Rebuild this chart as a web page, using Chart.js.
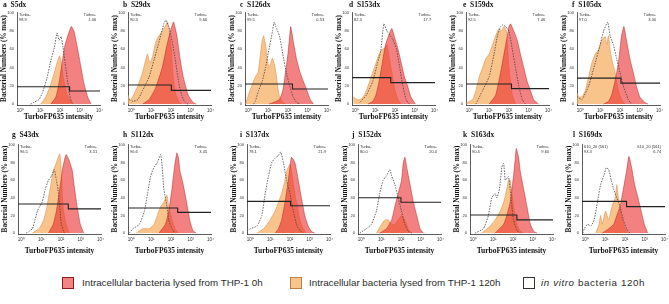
<!DOCTYPE html>
<html><head><meta charset="utf-8">
<script src="https://cdn.jsdelivr.net/npm/chart.js@4.4.1/dist/chart.umd.min.js"></script>
<style>
html,body{margin:0;padding:0;background:#fff;width:669px;height:304px;overflow:hidden;position:relative}
canvas{position:absolute}
.leg{position:absolute;font-family:"Liberation Sans",Arial,sans-serif;font-size:9.8px;color:#2a2a2a;white-space:nowrap;line-height:12px}
.sw{position:absolute;width:12px;height:12px;box-sizing:border-box}
</style></head><body>
<div class="sw" style="left:62px;top:277px;background:rgba(240,110,110,0.85);border:1px solid #8a1f1f"></div>
<div class="leg" style="left:82px;top:277px">Intracellular bacteria lysed from THP-1 0h</div>
<div class="sw" style="left:290px;top:277px;background:rgba(247,190,130,0.9);border:1px solid #c08040"></div>
<div class="leg" style="left:309px;top:277px">Intracellular bacteria lysed from THP-1 120h</div>
<div class="sw" style="left:523px;top:277px;background:#fff;border:1px solid #333"></div>
<div class="leg" style="left:541px;top:277px;letter-spacing:0.6px"><i>in vitro</i> bacteria 120h</div>
<script>
// ---------- data ----------
const panelLetters = ['a','b','c','d','e','f','g','h','i','j','k','l'];
const panelNames = ['S5dx','S29dx','S126dx','S153dx','S159dx','S105dx','S43dx','S112dx','S137dx','S152dx','S163dx','S169dx'];
const negLabels = ['Turbo-','Turbo-','Turbo-','Turbo-','Turbo-','Turbo-','Turbo-','Turbo-','Turbo-','Turbo-','Turbo-','610_20 (561)'];
const posLabels = ['Turbo+','Turbo+','Turbo+','Turbo+','Turbo+','Turbo+','Turbo+','Turbo+','Turbo+','Turbo+','Turbo+','610_20 (561)'];
const negPercent = ['98.9','90.3','99.5','82.3','92.5','97.0','96.5','96.6','78.1','80.0','90.4','93.3'];
const posPercent = ['1.06','9.66','0.53','17.7','7.46','3.00','3.51','3.45','21.9','20.0','9.60','6.74'];
const xTickLabels = ['10⁰','10¹','10²','10³','10⁴'];
const xTickValues = [0,1,2,3,4];
const yTickValues = [0,20,40,60,80,100];
const gateSplit = [2.49,2.02,2.23,1.79,2.13,2.05,2.37,2.34,2.03,2.0,2.2,2.08];
const gateLeftY = [19,21,22,29,22,28.5,33,28.5,36,40,20.5,36];
const gateRightY = [14.4,15,16.5,23.5,17,23,27.5,23.5,31,35,15,30];

// series: [log10 intensity, % max]
const redA = [[1.54,0],[1.8,8],[1.97,25],[2.14,50],[2.26,65],[2.4,75],[2.57,85],[2.71,80],[2.88,62],[3.05,42],[3.22,22],[3.4,8],[3.57,0]];
const orangeA = [[1.03,0],[1.29,8],[1.51,20],[1.72,35],[1.89,48],[1.99,53],[2.09,42],[2.2,25],[2.37,10],[2.54,3],[2.66,0]];
const vitroA = [[0.51,0],[0.69,2],[0.94,5],[1.11,12],[1.34,28],[1.54,48],[1.72,62],[1.85,78],[1.96,70],[2.06,74],[2.16,62],[2.26,45],[2.37,28],[2.47,12],[2.57,3],[2.68,0]];

const redB = [[0.57,0],[0.9,5],[1.23,18],[1.56,40],[1.8,65],[1.97,80],[2.13,90],[2.3,75],[2.46,50],[2.62,30],[2.87,10],[3.11,2],[3.28,0]];
const orangeB = [[-0.17,10],[-0.05,4],[0.11,10],[0.33,20],[0.57,35],[0.74,50],[0.82,55],[0.93,45],[1.07,52],[1.23,68],[1.39,75],[1.56,80],[1.72,86],[1.82,90],[1.92,80],[2.02,60],[2.11,30],[2.25,10],[2.41,2],[2.54,0]];
const vitroB = [[-0.11,5],[0.08,3],[0.33,5],[0.57,15],[0.9,30],[1.23,55],[1.48,75],[1.64,88],[1.75,92],[1.89,85],[2.05,70],[2.21,50],[2.38,25],[2.54,10],[2.7,2],[2.87,0]];

const redC = [[1.04,0],[1.3,2],[1.57,5],[1.74,15],[1.91,40],[2.0,55],[2.09,75],[2.14,85],[2.26,70],[2.43,50],[2.61,35],[2.78,25],[2.96,15],[3.13,5],[3.3,0]];
const orangeC = [[-0.14,0],[0,10],[0.17,20],[0.35,30],[0.49,35],[0.61,55],[0.7,70],[0.77,75],[0.87,65],[0.96,50],[1.04,40],[1.13,45],[1.22,50],[1.3,45],[1.39,35],[1.48,20],[1.57,8],[1.74,2],[1.88,0]];
const vitroC = [[0.26,0],[0.35,3],[0.52,15],[0.7,25],[0.87,40],[1.04,60],[1.22,80],[1.3,90],[1.39,85],[1.57,75],[1.74,55],[1.91,35],[2.09,20],[2.26,8],[2.43,2],[2.61,0]];

const redD = [[0.64,0],[0.88,3],[1.04,10],[1.2,25],[1.36,45],[1.52,65],[1.68,75],[1.84,83],[2.0,72],[2.16,60],[2.32,45],[2.48,30],[2.64,20],[2.8,8],[3.04,0]];
const orangeD = [[-0.11,8],[0.08,5],[0.24,5],[0.4,8],[0.56,15],[0.72,25],[0.88,35],[1.04,45],[1.2,55],[1.36,60],[1.52,62],[1.6,65],[1.68,55],[1.84,35],[2.0,15],[2.16,5],[2.32,0]];
const vitroD = [[0.24,2],[0.56,10],[0.88,25],[1.12,45],[1.28,58],[1.44,88],[1.6,80],[1.76,75],[1.92,70],[2.08,60],[2.24,40],[2.4,20],[2.56,5],[2.72,0]];

const redE = [[1.0,0],[1.33,10],[1.58,35],[1.75,55],[1.92,75],[2.0,85],[2.08,88],[2.25,80],[2.42,70],[2.58,55],[2.75,40],[2.92,25],[3.08,15],[3.25,5],[3.5,0]];
const orangeE = [[-0.17,0],[0,3],[0.17,5],[0.33,15],[0.5,30],[0.67,40],[0.83,50],[1.0,55],[1.17,65],[1.33,75],[1.5,83],[1.62,80],[1.75,85],[1.87,80],[2.0,40],[2.17,10],[2.33,0]];
const vitroE = [[0.33,0],[0.67,15],[1.0,30],[1.25,55],[1.42,75],[1.58,85],[1.7,87],[1.83,85],[2.0,80],[2.17,60],[2.33,40],[2.5,20],[2.67,5],[2.83,0]];

const redF = [[1.17,0],[1.42,3],[1.58,10],[1.75,25],[1.92,45],[2.0,60],[2.08,75],[2.2,85],[2.33,70],[2.5,50],[2.67,35],[2.83,20],[3.0,8],[3.25,2],[3.42,0]];
const orangeF = [[-0.17,12],[-0.08,8],[0.08,8],[0.25,15],[0.42,30],[0.58,45],[0.75,55],[0.92,60],[1.08,70],[1.25,74],[1.33,65],[1.42,75],[1.5,60],[1.58,50],[1.75,35],[1.92,15],[2.08,5],[2.25,0]];
const vitroF = [[-0.17,8],[0.08,5],[0.42,20],[0.75,45],[1.0,65],[1.17,80],[1.38,90],[1.5,75],[1.67,65],[1.83,50],[2.0,35],[2.17,20],[2.42,5],[2.58,0]];

const redG = [[1.37,0],[1.61,10],[1.77,25],[1.94,50],[2.1,75],[2.26,89],[2.42,82],[2.58,70],[2.66,55],[2.82,30],[2.98,10],[3.15,0]];
const orangeG = [[0.56,0],[0.89,5],[1.13,15],[1.29,30],[1.45,50],[1.61,70],[1.77,80],[1.94,90],[2.02,70],[2.1,30],[2.26,10],[2.42,0]];
const vitroG = [[0.24,0],[0.4,2],[0.56,5],[0.69,15],[0.81,25],[0.92,30],[1.05,35],[1.21,50],[1.37,60],[1.53,65],[1.66,72],[1.77,60],[1.85,50],[1.94,30],[2.02,10],[2.18,0]];

const redH = [[1.39,0],[1.72,10],[1.89,25],[2.05,50],[2.18,75],[2.3,91],[2.38,85],[2.46,70],[2.62,55],[2.79,35],[2.95,15],[3.11,3],[3.28,0]];
const orangeH = [[0.25,0],[0.57,5],[0.9,5],[1.15,10],[1.31,20],[1.48,30],[1.64,35],[1.8,43],[1.89,30],[2.05,15],[2.21,5],[2.38,0]];
const vitroH = [[-0.11,0],[0.08,5],[0.41,10],[0.66,25],[0.82,45],[0.98,65],[1.15,75],[1.31,80],[1.48,89],[1.56,75],[1.64,50],[1.8,30],[1.89,15],[2.05,5],[2.21,0]];

const redI = [[1.25,0],[1.42,5],[1.58,15],[1.75,35],[1.92,60],[2.0,75],[2.08,86],[2.25,80],[2.42,60],[2.58,40],[2.75,20],[2.92,8],[3.08,2],[3.25,0]];
const orangeI = [[0.33,0],[0.67,5],[1.0,15],[1.25,25],[1.42,35],[1.58,45],[1.75,60],[1.83,70],[1.92,75],[2.0,78],[2.08,70],[2.17,55],[2.33,35],[2.5,15],[2.67,5],[2.83,0]];
const vitroI = [[-0.17,3],[0,5],[0.33,8],[0.58,20],[0.75,45],[0.92,65],[1.08,80],[1.25,85],[1.42,88],[1.53,92],[1.67,80],[1.83,60],[2.0,45],[2.17,25],[2.33,10],[2.5,3],[2.67,0]];

const redJ = [[0.93,0],[1.27,5],[1.53,15],[1.69,30],[1.86,45],[2.03,60],[2.12,80],[2.2,86],[2.29,75],[2.46,55],[2.63,35],[2.8,20],[2.97,5],[3.14,0]];
const orangeJ = [[0.76,0],[1.02,10],[1.19,15],[1.36,15],[1.53,10],[1.69,10],[1.86,15],[2.03,20],[2.2,15],[2.37,5],[2.54,0]];
const vitroJ = [[-0.08,0],[0.25,5],[0.51,10],[0.76,25],[0.93,45],[1.1,60],[1.27,65],[1.44,72],[1.53,65],[1.69,55],[1.86,40],[2.03,25],[2.2,10],[2.37,2],[2.54,0]];

const redK = [[1.1,0],[1.53,10],[1.69,20],[1.86,35],[1.95,50],[2.03,65],[2.12,85],[2.17,96],[2.29,85],[2.37,70],[2.54,50],[2.71,30],[2.88,10],[3.05,2],[3.22,0]];
const orangeK = [[0.42,0],[0.85,8],[1.1,15],[1.36,25],[1.53,35],[1.69,50],[1.78,60],[1.86,60],[1.95,45],[2.03,30],[2.2,10],[2.37,2],[2.54,0]];
const vitroK = [[0.08,0],[0.51,5],[0.76,20],[0.93,40],[1.1,45],[1.19,40],[1.32,50],[1.44,75],[1.53,79],[1.61,60],[1.69,62],[1.78,64],[1.86,50],[1.95,30],[2.03,15],[2.2,3],[2.37,0]];

const redL = [[0.85,0],[1.18,5],[1.43,10],[1.59,20],[1.75,30],[1.92,50],[2.08,70],[2.2,87],[2.33,75],[2.49,55],[2.66,40],[2.82,25],[2.98,10],[3.15,0]];
const orangeL = [[0.52,0],[0.69,10],[0.77,20],[0.85,10],[1.02,25],[1.18,15],[1.34,30],[1.51,40],[1.59,55],[1.67,40],[1.84,20],[2.0,5],[2.16,0]];
const vitroL = [[-0.13,0],[-0.05,5],[0.11,10],[0.28,8],[0.44,15],[0.61,35],[0.77,55],[0.93,65],[1.05,74],[1.18,72],[1.31,60],[1.43,50],[1.59,40],[1.75,30],[1.92,15],[2.08,5],[2.25,0]];

const redSeries = [redA,redB,redC,redD,redE,redF,redG,redH,redI,redJ,redK,redL];
const orangeSeries = [orangeA,orangeB,orangeC,orangeD,orangeE,orangeF,orangeG,orangeH,orangeI,orangeJ,orangeK,orangeL];
const vitroSeries = [vitroA,vitroB,vitroC,vitroD,vitroE,vitroF,vitroG,vitroH,vitroI,vitroJ,vitroK,vitroL];

// ---------- layout ----------
const X_MIN = -0.17, X_MAX = 4.03;
const plotLefts = [17,128,245,352,466,577, 18,128,247,358,470,582];
const titleDx = [-14,-5,-5,-3,-3,-5, -6,-5,-7,-6,-7,-9];
const PLOT_W = 84;
const rows = [
  {top:0, padTop:12, plotH:93, canvasH:125, titlePadB:3},
  {top:130, padTop:14, plotH:90, canvasH:128, titlePadB:2}
];

const toXY = arr => arr.map(p => ({x:p[0], y:p[1]}));
const serif = '"Liberation Serif","Times New Roman",serif';
const sans = '"Liberation Sans",Arial,sans-serif';

const panelText = {
  id:'panelText',
  afterDraw(chart, args, o){
    const ctx = chart.ctx, ca = chart.chartArea;
    ctx.save();
    ctx.fillStyle = '#111';
    ctx.font = 'bold 7.5px ' + serif;
    ctx.textBaseline = 'middle';
    ctx.textAlign = 'left';
    ctx.fillText(o.letter + '  ' + o.name, ca.left + o.dx, 5);
    ctx.font = '4px ' + sans;
    ctx.fillStyle = '#333';
    ctx.fillText(o.negLabel, ca.left + 2, ca.top + 3);
    ctx.fillText(o.neg, ca.left + 2, ca.top + 8);
    ctx.textAlign = 'right';
    ctx.fillText(o.posLabel, ca.right - 4, ca.top + 3);
    ctx.fillText(o.pos, ca.right - 4, ca.top + 8);
    ctx.restore();
  }
};

for (let i = 0; i < 12; i++) {
  const row = rows[i < 6 ? 0 : 1];
  const cv = document.createElement('canvas');
  const left = plotLefts[i] - 17;
  const w = 17 + PLOT_W + 3;
  cv.width = w; cv.height = row.canvasH;
  cv.style.left = left + 'px'; cv.style.top = row.top + 'px';
  cv.style.width = w + 'px'; cv.style.height = row.canvasH + 'px';
  document.body.appendChild(cv);
  const xAxisH = row.canvasH - row.padTop - row.plotH;
  const gate = [
    {x:X_MIN, y:gateLeftY[i]}, {x:gateSplit[i], y:gateLeftY[i]},
    {x:gateSplit[i], y:gateRightY[i]}, {x:X_MAX, y:gateRightY[i]}
  ];
  new Chart(cv, {
    type:'line',
    data:{datasets:[
      {data:gate, borderColor:'#222', borderWidth:1.1, pointRadius:0, fill:false, tension:0},
      {data:toXY(vitroSeries[i]), borderColor:'#444', borderWidth:0.8, borderDash:[1.5,1.2], pointRadius:0, fill:false, tension:0.15},
      {data:toXY(redSeries[i]), borderColor:'rgba(170,30,30,0.8)', borderWidth:0.6, backgroundColor:'rgba(236,45,45,0.6)', pointRadius:0, fill:'origin', tension:0.15},
      {data:toXY(orangeSeries[i]), borderColor:'rgba(215,140,70,0.9)', borderWidth:0.6, backgroundColor:'rgba(246,172,95,0.72)', pointRadius:0, fill:'origin', tension:0.15}
    ]},
    options:{
      responsive:false, animation:false, devicePixelRatio:1,
      layout:{padding:{top:row.padTop, left:0, right:3, bottom:0}},
      plugins:{legend:{display:false}, tooltip:{enabled:false},
        panelText:{letter:panelLetters[i], name:panelNames[i], dx:titleDx[i],
          negLabel:negLabels[i], posLabel:posLabels[i], neg:negPercent[i], pos:posPercent[i]}},
      scales:{
        x:{type:'linear', min:X_MIN, max:X_MAX,
          afterBuildTicks:s => { s.ticks = xTickValues.map(v => ({value:v})); },
          afterFit:s => { s.height = xAxisH; },
          grid:{display:false, drawTicks:true, tickLength:2, tickColor:'#333'},
          border:{color:'#333', width:0.8},
          ticks:{callback:(v, idx) => xTickLabels[idx], font:{size:4.5, family:sans}, color:'#333', padding:1, maxRotation:0, autoSkip:false},
          title:{display:true, text:'TurboFP635 intensity', font:{size:7.5, weight:'bold', family:serif}, color:'#111', padding:{top:0, bottom:row.titlePadB}}
        },
        y:{type:'linear', min:-1, max:101,
          afterBuildTicks:s => { s.ticks = yTickValues.map(v => ({value:v})); },
          afterFit:s => { s.width = 17; },
          grid:{display:false, drawTicks:true, tickLength:2, tickColor:'#333'},
          border:{color:'#333', width:0.8},
          ticks:{font:{size:4, family:sans}, color:'#333', padding:1},
          title:{display:true, text:'Bacterial Numbers (% max)', font:{size:7.2, weight:'bold', family:serif}, color:'#111', padding:{top:0, bottom:0}}
        }
      }
    },
    plugins:[panelText]
  });
}
</script>
</body></html>
